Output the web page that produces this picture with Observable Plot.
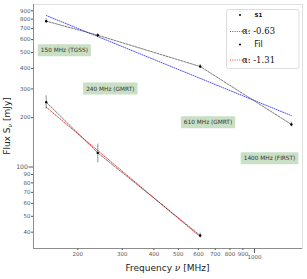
<!DOCTYPE html>
<html><head><meta charset="utf-8">
<script src="https://cdn.jsdelivr.net/npm/d3@7"></script>
<script src="https://cdn.jsdelivr.net/npm/@observablehq/plot@0.6"></script>
<style>
html,body{margin:0;padding:0;background:#fff;}
#chart{width:307px;height:279px;overflow:hidden;}
</style>
</head><body><div id="chart"></div>
<script>
// ---- data ----
const s1Freq = [150, 240, 610, 1400];
const s1Flux = [778, 638, 411, 182];
const s1Err  = [27, 15, 12, 6];
const filFreq = [150, 240, 610];
const filFlux = [249, 122, 38.2];
const filErr  = [23, 16, 1.2];
const fitS1Freq = [150, 1400];
const fitS1Flux = [842, 206];
const fitFilFreq = [150, 610];
const fitFilFlux = [232, 37.5];
const annLabels = ["150 MHz (TGSS)", "240 MHz (GMRT)", "610 MHz (GMRT)", "1400 MHz (FIRST)"];
const annFreq = [177, 269, 655, 1147];
const annFlux = [515, 301, 187, 113];
const yMinorTicks = [40, 50, 60, 70, 80, 90, 200, 300, 400, 500, 600, 700, 800, 900];
const yMajorTicks = [100];
const xMinorTicks = [200, 300, 400, 500, 600, 700, 800, 900];
const xMajorTicks = [1000];
const legendLabels = ["S1", "\u03b1: -0.63", "Fil", "\u03b1: -1.31"];

const s1 = s1Freq.map((f, i) => ({freq: f, flux: s1Flux[i], err: s1Err[i]}));
const fil = filFreq.map((f, i) => ({freq: f, flux: filFlux[i], err: filErr[i]}));
const fitS1 = fitS1Freq.map((f, i) => ({freq: f, flux: fitS1Flux[i]}));
const fitFil = fitFilFreq.map((f, i) => ({freq: f, flux: fitFilFlux[i]}));
const ann = annLabels.map((t, i) => ({text: t, freq: annFreq[i], flux: annFlux[i]}));

const tickStyle = {fill: "#555", fontSize: 5.5, fontFamily: "DejaVu Sans"};

const chart = Plot.plot({
  width: 307, height: 279,
  marginLeft: 33, marginRight: 5, marginTop: 4, marginBottom: 31,
  style: {fontFamily: "DejaVu Sans", background: "#fff"},
  x: {type: "log", domain: [133.6, 1549]},
  y: {type: "log", domain: [31.8, 983]},
  marks: [
    Plot.frame({stroke: "#d8d8d8", strokeWidth: 0.8}),
    Plot.axisY(yMinorTicks, {tickSize: 2, tickFormat: () => "", label: null, stroke: "#555"}),
    Plot.axisY(yMajorTicks, {tickSize: 4.5, tickFormat: () => "", label: null, stroke: "#555"}),
    Plot.axisX(xMinorTicks, {tickSize: 2, tickFormat: () => "", label: null, stroke: "#555"}),
    Plot.axisX(xMajorTicks, {tickSize: 5, tickFormat: () => "", label: null, stroke: "#555"}),
    Plot.text(yMinorTicks, {y: d => d, text: d => String(d), frameAnchor: "left", textAnchor: "end", dx: -3, ...tickStyle}),
    Plot.text(yMajorTicks, {y: d => d, text: d => String(d), frameAnchor: "left", textAnchor: "end", dx: -5.5, ...tickStyle, fontSize: 6.2}),
    Plot.text(xMinorTicks, {x: d => d, text: d => String(d), frameAnchor: "bottom", lineAnchor: "top", dy: 4, ...tickStyle}),
    Plot.text(xMajorTicks, {x: d => d, text: d => String(d), frameAnchor: "bottom", lineAnchor: "top", dy: 7, ...tickStyle}),
    Plot.ruleX([1], {x: () => 133.6, y1: 31.8, y2: 983, stroke: "#777", strokeWidth: 0.8}),
    Plot.ruleY([1], {y: () => 31.8, x1: 133.6, x2: 1549, stroke: "#777", strokeWidth: 0.8}),
    Plot.line(fitS1, {x: "freq", y: "flux", stroke: "#3c3cff", strokeWidth: 0.9, strokeDasharray: "1,1.3"}),
    Plot.line(fitFil, {x: "freq", y: "flux", stroke: "#ff2020", strokeWidth: 0.9, strokeDasharray: "1,1.3"}),
    Plot.line(s1, {x: "freq", y: "flux", stroke: "#222", strokeWidth: 0.6, strokeDasharray: "2,1.2"}),
    Plot.line(fil, {x: "freq", y: "flux", stroke: "#222", strokeWidth: 0.6, strokeDasharray: "2,1.2"}),
    Plot.ruleX(s1, {x: "freq", y1: d => d.flux - d.err, y2: d => d.flux + d.err, stroke: "#444", strokeWidth: 0.6}),
    Plot.ruleX(fil, {x: "freq", y1: d => d.flux - d.err, y2: d => d.flux + d.err, stroke: "#444", strokeWidth: 0.6}),
    Plot.dot(s1, {x: "freq", y: "flux", r: 1.2, fill: "#000"}),
    Plot.dot(fil, {x: "freq", y: "flux", r: 1.2, fill: "#000"}),
    Plot.text(ann, {x: "freq", y: "flux", text: "text", fontSize: 5.8, fill: "#333", fontFamily: "DejaVu Sans"})
  ]
});
document.getElementById("chart").appendChild(chart);

const svg = d3.select(chart);
// annotation boxes
svg.selectAll("text").filter(function() { return annLabels.includes(this.textContent); }).each(function() {
  const b = this.getBBox();
  const t = this.getAttribute("transform");
  const r = document.createElementNS("http://www.w3.org/2000/svg", "rect");
  r.setAttribute("x", b.x - 3); r.setAttribute("y", b.y - 3);
  r.setAttribute("width", b.width + 6); r.setAttribute("height", b.height + 6);
  r.setAttribute("rx", 0.8); r.setAttribute("fill", "#c9e0c5");
  if (t) r.setAttribute("transform", t);
  this.parentNode.insertBefore(r, this);
});

// axis labels
const xl = svg.append("text").attr("x", 167.5).attr("y", 271).attr("text-anchor", "middle")
  .attr("font-family", "DejaVu Sans").attr("font-size", 9).attr("fill", "#222");
xl.append("tspan").text("Frequency ");
xl.append("tspan").attr("font-style", "italic").attr("font-family", "DejaVu Serif").text("\u03bd");
xl.append("tspan").text(" [MHz]");

const yl = svg.append("text").attr("transform", "translate(10,126) rotate(-90)").attr("text-anchor", "middle")
  .attr("font-family", "DejaVu Sans").attr("font-size", 9).attr("fill", "#222");
yl.append("tspan").text("Flux S");
yl.append("tspan").attr("font-size", 6).attr("dy", 2).attr("font-style", "italic").attr("font-family", "DejaVu Serif").text("\u03bd");
yl.append("tspan").attr("dy", -2).text(" [mJy]");

// legend
const lg = svg.append("g");
lg.append("rect").attr("x", 226.5).attr("y", 9.5).attr("width", 72.5).attr("height", 59)
  .attr("rx", 2).attr("fill", "#fff").attr("fill-opacity", 0.9).attr("stroke", "#d0d0d0").attr("stroke-width", 0.7);
const rowsY = [15, 31.5, 44.5, 60];
lg.append("circle").attr("cx", 240).attr("cy", rowsY[0]).attr("r", 1).attr("fill", "#000");
lg.append("circle").attr("cx", 240).attr("cy", rowsY[2]).attr("r", 1).attr("fill", "#000");
lg.append("line").attr("x1", 230).attr("x2", 250).attr("y1", rowsY[1]).attr("y2", rowsY[1])
  .attr("stroke", "#3c3cff").attr("stroke-width", 0.9).attr("stroke-dasharray", "1,1.3");
lg.append("line").attr("x1", 230).attr("x2", 250).attr("y1", rowsY[3]).attr("y2", rowsY[3])
  .attr("stroke", "#ff2020").attr("stroke-width", 0.9).attr("stroke-dasharray", "1,1.3");
const lt = (i, size, weight, family) => lg.append("text").attr("x", 258.5).attr("y", rowsY[i]).attr("dy", "0.35em")
  .attr("font-size", size).attr("font-weight", weight).attr("font-family", family).attr("fill", "#111").text(legendLabels[i]);
lt(0, 5.5, "bold", "DejaVu Sans");
lt(1, 8.5, "normal", "DejaVu Serif");
lt(2, 8, "normal", "DejaVu Sans");
lt(3, 8.5, "normal", "DejaVu Serif");
</script>
</body></html>
